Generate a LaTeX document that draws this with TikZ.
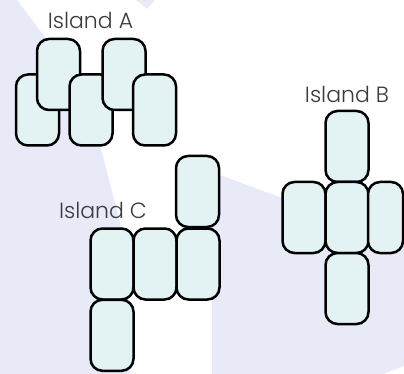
\documentclass[tikz,border=0pt]{standalone}
\usepackage{fontspec}
\newfontfamily\labfont{Poppins}[UprightFont={* Light}]
\definecolor{lav}{HTML}{E8EBF7}
\definecolor{tilefill}{HTML}{E3F2F3}
\definecolor{labgray}{HTML}{3A3A3A}
\tikzset{
  tile/.style={draw=black, line width=2.5pt, fill=tilefill, rounded corners=12pt,
    minimum width=43pt, minimum height=71pt, inner sep=0pt, outer sep=0pt},
  islandlabel/.style={font=\labfont\fontsize{22}{26}\selectfont, text=labgray, inner sep=0pt},
  bgshape/.style={fill=lav, draw=none}
}
\begin{document}
\begin{tikzpicture}[x=1pt, y=-1pt]
\useasboundingbox (0,0) rectangle (404,374);
\fill[white] (0,0) rectangle (404,374);
% background shapes
\fill[bgshape] (0,0) -- (17,0) -- (47,40) -- (100,145) -- (122,230) -- (128,300) -- (130,374) -- (0,374) -- cycle;
\fill[bgshape] (136,0) -- (155,0) -- (147,9) -- cycle;
\fill[bgshape] (212,374) -- (212,175) -- (220,175) -- (282,198) -- (404,243) -- (404,366) -- (383,374) -- cycle;
% labels
\node[islandlabel] (la) at (90.5,20) {Island A};
\node[islandlabel] (lb) at (347,94) {Island B};
\node[islandlabel] (lc) at (103,210.5) {Island C};
% Island A
\node[tile] (a2) at (37.5,110) {};
\node[tile] (a1) at (58.5,74.5) {};
\node[tile] (a4) at (91,110) {};
\node[tile] (a3) at (124,74.5) {};
\node[tile] (a5) at (154.5,110) {};
% Island B
\node[tile] (b1) at (347,146.5) {};
\node[tile] (b2) at (304,217.5) {};
\node[tile] (b3) at (347,217.5) {};
\node[tile, minimum width=35pt] (b4) at (385.5,217.5) {};
\node[tile] (b5) at (347,288.5) {};
% Island C
\node[tile] (c1) at (197.5,191.5) {};
\node[tile] (c2) at (112,264) {};
\node[tile] (c3) at (155,264) {};
\node[tile] (c4) at (198,264) {};
\node[tile] (c5) at (112,335.3) {};
\end{tikzpicture}
\end{document}
